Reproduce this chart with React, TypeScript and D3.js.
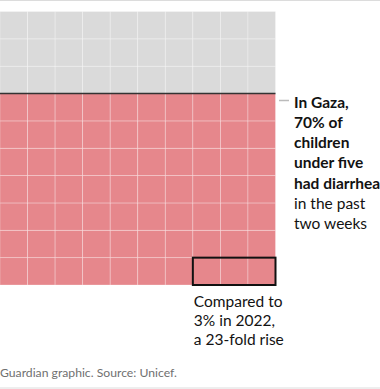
import React from "react";
import * as d3 from "d3";

const totalCells = 100;
const columns = 10;
const pctNow = 70; // % of children under five with diarrhea (Gaza)
const pct2022 = 3;
const labelNowBold = ["In Gaza,", "70% of", "children", "under five", "had diarrhea"];
const labelNowRegular = ["in the past", "two weeks"];
const label2022 = ["Compared to", "3% in 2022,", "a 23-fold rise"];
const footer = "Guardian graphic. Source: Unicef.";

const W = 380;
const H = 389;
const gridLeft = 0;
const gridRight = 275.5;
const gridTop = 11.5;
const gridBottom = 285;
const red = "#e6878c";
const grey = "#dadada";
const font = "Lato, 'Noto Sans', sans-serif";

export default function App() {
  const rows = totalCells / columns;
  const x = d3.scaleBand<number>().domain(d3.range(columns)).range([gridLeft, gridRight]).paddingInner(0);
  const y = d3.scaleBand<number>().domain(d3.range(rows)).range([gridBottom, gridTop]); // row 0 at bottom
  const cells = d3.range(totalCells).map((i) => {
    const r = Math.floor(i / columns);
    const c = i % columns;
    return { i, r, c, filled: i < pctNow };
  });
  const fullRowsNow = pctNow / columns;
  const lineY = y(fullRowsNow - 1)!; // top of red area
  const boxStartCol = columns - pct2022;
  const bx0 = x(boxStartCol)!;
  const bx1 = x(columns - 1)! + x.bandwidth();
  const by0 = y(0)!;
  const by1 = y(0)! + y.bandwidth();
  const textX = 294;
  const lh = 20.3;
  const firstBase = 107.5;

  return (
    <svg width={W} height={H} style={{ position: "absolute", left: 0, top: 0, background: "#fff" }}>
      <line x1={0} x2={W} y1={0.5} y2={0.5} stroke="#dcdcdc" strokeWidth={1} />
      {cells.map((d) => (
        <rect
          key={d.i}
          x={x(d.c)!}
          y={y(d.r)!}
          width={x.bandwidth()}
          height={y.bandwidth()}
          fill={d.filled ? red : grey}
          stroke="#ffffff"
          strokeOpacity={0.35}
          strokeWidth={0.8}
        />
      ))}
      <line x1={gridLeft} x2={gridRight} y1={lineY} y2={lineY} stroke="#333" strokeWidth={1.6} />
      <line x1={279} x2={289} y1={100.5} y2={100.5} stroke="#bbbbbb" strokeWidth={1.5} />
      <rect x={bx0} y={by0} width={bx1 - bx0} height={by1 - by0} fill="none" stroke="#111" strokeWidth={2} />
      <text fontFamily={font} fontSize={15.5} fill="#121212">
        {labelNowBold.map((t, i) => (
          <tspan key={t} x={textX} y={firstBase + i * lh} fontWeight={700}>
            {t}
          </tspan>
        ))}
        {labelNowRegular.map((t, i) => (
          <tspan key={t} x={textX} y={firstBase + (labelNowBold.length + i) * lh} fontWeight={400}>
            {t}
          </tspan>
        ))}
      </text>
      <text fontFamily={font} fontSize={15.5} fill="#121212">
        {label2022.map((t, i) => (
          <tspan key={t} x={bx0 + 1} y={307 + i * 19} fontWeight={400}>
            {t}
          </tspan>
        ))}
      </text>
      <text x={0} y={377} fontFamily={font} fontSize={12.2} fill="#707070">
        {footer}
      </text>
      <line x1={0} x2={W} y1={388} y2={388} stroke="#dcdcdc" strokeWidth={1} />
    </svg>
  );
}
